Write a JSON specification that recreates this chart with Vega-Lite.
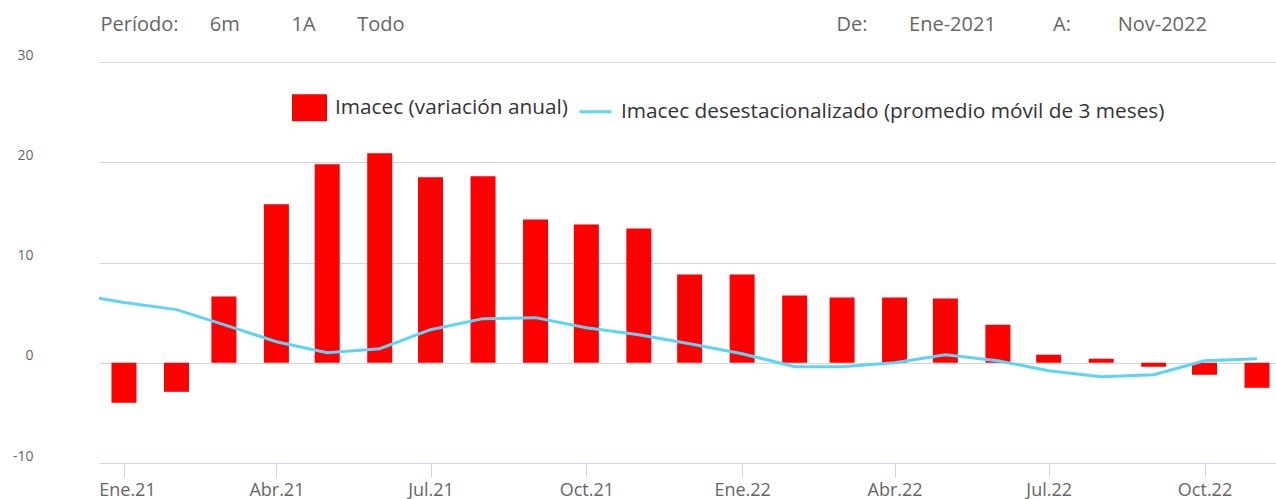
{
  "$schema": "https://vega.github.io/schema/vega-lite/v6.json",
  "autosize": {"type": "none"},
  "padding": {"left": 99, "top": 62, "right": 0, "bottom": 36},
  "width": 1177,
  "height": 401,
  "background": "#ffffff",
  "config": {"view": {"stroke": null}},
  "datasets": {
    "barras": [
      {"fecha": "2021-01-01", "valor": -4.0, "serie": "Imacec (variación anual)"},
      {"fecha": "2021-02-01", "valor": -2.9, "serie": "Imacec (variación anual)"},
      {"fecha": "2021-03-01", "valor": 6.6, "serie": "Imacec (variación anual)"},
      {"fecha": "2021-04-01", "valor": 15.8, "serie": "Imacec (variación anual)"},
      {"fecha": "2021-05-01", "valor": 19.8, "serie": "Imacec (variación anual)"},
      {"fecha": "2021-06-01", "valor": 20.9, "serie": "Imacec (variación anual)"},
      {"fecha": "2021-07-01", "valor": 18.5, "serie": "Imacec (variación anual)"},
      {"fecha": "2021-08-01", "valor": 18.6, "serie": "Imacec (variación anual)"},
      {"fecha": "2021-09-01", "valor": 14.3, "serie": "Imacec (variación anual)"},
      {"fecha": "2021-10-01", "valor": 13.8, "serie": "Imacec (variación anual)"},
      {"fecha": "2021-11-01", "valor": 13.4, "serie": "Imacec (variación anual)"},
      {"fecha": "2021-12-01", "valor": 8.8, "serie": "Imacec (variación anual)"},
      {"fecha": "2022-01-01", "valor": 8.8, "serie": "Imacec (variación anual)"},
      {"fecha": "2022-02-01", "valor": 6.7, "serie": "Imacec (variación anual)"},
      {"fecha": "2022-03-01", "valor": 6.5, "serie": "Imacec (variación anual)"},
      {"fecha": "2022-04-01", "valor": 6.5, "serie": "Imacec (variación anual)"},
      {"fecha": "2022-05-01", "valor": 6.4, "serie": "Imacec (variación anual)"},
      {"fecha": "2022-06-01", "valor": 3.8, "serie": "Imacec (variación anual)"},
      {"fecha": "2022-07-01", "valor": 0.8, "serie": "Imacec (variación anual)"},
      {"fecha": "2022-08-01", "valor": 0.4, "serie": "Imacec (variación anual)"},
      {"fecha": "2022-09-01", "valor": -0.4, "serie": "Imacec (variación anual)"},
      {"fecha": "2022-10-01", "valor": -1.2, "serie": "Imacec (variación anual)"},
      {"fecha": "2022-11-01", "valor": -2.5, "serie": "Imacec (variación anual)"}
    ],
    "linea": [
      {"fecha": "2020-12-01", "valor": 6.9, "serie": "Imacec desestacionalizado (promedio móvil de 3 meses)"},
      {"fecha": "2021-01-01", "valor": 6.0, "serie": "Imacec desestacionalizado (promedio móvil de 3 meses)"},
      {"fecha": "2021-02-01", "valor": 5.3, "serie": "Imacec desestacionalizado (promedio móvil de 3 meses)"},
      {"fecha": "2021-03-01", "valor": 3.8, "serie": "Imacec desestacionalizado (promedio móvil de 3 meses)"},
      {"fecha": "2021-04-01", "valor": 2.1, "serie": "Imacec desestacionalizado (promedio móvil de 3 meses)"},
      {"fecha": "2021-05-01", "valor": 1.0, "serie": "Imacec desestacionalizado (promedio móvil de 3 meses)"},
      {"fecha": "2021-06-01", "valor": 1.4, "serie": "Imacec desestacionalizado (promedio móvil de 3 meses)"},
      {"fecha": "2021-07-01", "valor": 3.3, "serie": "Imacec desestacionalizado (promedio móvil de 3 meses)"},
      {"fecha": "2021-08-01", "valor": 4.4, "serie": "Imacec desestacionalizado (promedio móvil de 3 meses)"},
      {"fecha": "2021-09-01", "valor": 4.5, "serie": "Imacec desestacionalizado (promedio móvil de 3 meses)"},
      {"fecha": "2021-10-01", "valor": 3.5, "serie": "Imacec desestacionalizado (promedio móvil de 3 meses)"},
      {"fecha": "2021-11-01", "valor": 2.8, "serie": "Imacec desestacionalizado (promedio móvil de 3 meses)"},
      {"fecha": "2021-12-01", "valor": 1.9, "serie": "Imacec desestacionalizado (promedio móvil de 3 meses)"},
      {"fecha": "2022-01-01", "valor": 0.9, "serie": "Imacec desestacionalizado (promedio móvil de 3 meses)"},
      {"fecha": "2022-02-01", "valor": -0.4, "serie": "Imacec desestacionalizado (promedio móvil de 3 meses)"},
      {"fecha": "2022-03-01", "valor": -0.4, "serie": "Imacec desestacionalizado (promedio móvil de 3 meses)"},
      {"fecha": "2022-04-01", "valor": 0.0, "serie": "Imacec desestacionalizado (promedio móvil de 3 meses)"},
      {"fecha": "2022-05-01", "valor": 0.8, "serie": "Imacec desestacionalizado (promedio móvil de 3 meses)"},
      {"fecha": "2022-06-01", "valor": 0.2, "serie": "Imacec desestacionalizado (promedio móvil de 3 meses)"},
      {"fecha": "2022-07-01", "valor": -0.8, "serie": "Imacec desestacionalizado (promedio móvil de 3 meses)"},
      {"fecha": "2022-08-01", "valor": -1.4, "serie": "Imacec desestacionalizado (promedio móvil de 3 meses)"},
      {"fecha": "2022-09-01", "valor": -1.2, "serie": "Imacec desestacionalizado (promedio móvil de 3 meses)"},
      {"fecha": "2022-10-01", "valor": 0.2, "serie": "Imacec desestacionalizado (promedio móvil de 3 meses)"},
      {"fecha": "2022-11-01", "valor": 0.4, "serie": "Imacec desestacionalizado (promedio móvil de 3 meses)"}
    ]
  },
  "encoding": {
    "x": {
      "field": "fecha",
      "type": "temporal",
      "scale": {
        "type": "utc",
        "padding": 0,
        "domain": [
          {"year": 2020, "month": 12, "date": 17, "hours": 6, "utc": true},
          {"year": 2022, "month": 11, "date": 12, "hours": 5, "utc": true}
        ]
      },
      "axis": {
        "values": [
          {"year": 2021, "month": 1, "date": 1, "utc": true},
          {"year": 2021, "month": 4, "date": 1, "utc": true},
          {"year": 2021, "month": 7, "date": 1, "utc": true},
          {"year": 2021, "month": 10, "date": 1, "utc": true},
          {"year": 2022, "month": 1, "date": 1, "utc": true},
          {"year": 2022, "month": 4, "date": 1, "utc": true},
          {"year": 2022, "month": 7, "date": 1, "utc": true},
          {"year": 2022, "month": 10, "date": 1, "utc": true}
        ],
        "labelExpr": "['Ene','Feb','Mar','Abr','May','Jun','Jul','Ago','Sep','Oct','Nov','Dic'][utcmonth(datum.value)] + '.' + utcFormat(datum.value, '%y')",
        "labelFont": "Open Sans",
        "labelFontSize": 18,
        "labelColor": "#666666",
        "labelBaseline": "alphabetic",
        "labelPadding": 18,
        "labelOffset": {"condition": {"test": "utcyear(datum.value) === 2021 && utcmonth(datum.value) === 0", "value": 3}, "value": 0},
        "ticks": true,
        "tickSize": 14,
        "tickColor": "#ccd6eb",
        "tickWidth": 1,
        "domain": true,
        "domainColor": "#ccd6eb",
        "domainWidth": 1,
        "grid": false,
        "title": "De:\u00a0\u00a0\u00a0\u00a0\u00a0\u00a0\u00a0\u00a0Ene-2021\u00a0\u00a0\u00a0\u00a0\u00a0\u00a0\u00a0\u00a0\u00a0\u00a0\u00a0A:\u00a0\u00a0\u00a0\u00a0\u00a0\u00a0\u00a0\u00a0\u00a0Nov-2022",
        "titleFont": "Open Sans",
        "titleFontSize": 20,
        "titleFontWeight": "normal",
        "titleColor": "#666666",
        "titleAngle": 0,
        "titleAlign": "left",
        "titleBaseline": "alphabetic",
        "titleX": 737,
        "titleY": -433
      }
    },
    "y": {
      "field": "valor",
      "type": "quantitative",
      "scale": {"domain": [-10, 30], "nice": false, "zero": false},
      "axis": {
        "values": [-10, 0, 10, 20, 30],
        "labelExpr": "replace(datum.label, '\u2212', '-')",
        "labelFont": "Open Sans",
        "labelFontSize": 14,
        "labelColor": "#666666",
        "labelAlign": "right",
        "labelBaseline": "alphabetic",
        "labelOffset": -3,
        "labelPadding": 66,
        "ticks": false,
        "tickSize": 0,
        "domain": false,
        "grid": true,
        "gridColor": "#d6d6d6",
        "gridWidth": 1,
        "title": "Período:\u00a0\u00a0\u00a0\u00a0\u00a0\u00a06m\u00a0\u00a0\u00a0\u00a0\u00a0\u00a0\u00a0\u00a0\u00a0\u00a01A\u00a0\u00a0\u00a0\u00a0\u00a0\u00a0\u00a0\u00a0Todo",
        "titleFont": "Open Sans",
        "titleFontSize": 20,
        "titleFontWeight": "normal",
        "titleColor": "#666666",
        "titleAngle": 0,
        "titleAlign": "left",
        "titleBaseline": "alphabetic",
        "titleX": 1,
        "titleY": -32
      }
    }
  },
  "layer": [
    {
      "data": {"name": "barras"},
      "mark": {"type": "bar", "size": 25},
      "encoding": {
        "color": {
          "field": "serie",
          "type": "nominal",
          "scale": {
            "domain": ["Imacec (variación anual)", "Imacec desestacionalizado (promedio móvil de 3 meses)"],
            "range": ["#ff0000", "#5cd3f9"]
          },
          "legend": {
            "orient": "none",
            "direction": "horizontal",
            "legendX": 193,
            "legendY": 28,
            "padding": 0,
            "title": null,
            "labelFont": "Open Sans",
            "labelFontSize": 20.8,
            "labelColor": "#333333",
            "labelLimit": 0,
            "labelOffset": 8,
            "columnPadding": 5,
            "symbolSize": 1024,
            "encode": {
              "symbols": {
                "update": {
                  "shape": {"signal": "datum.value === 'Imacec (variación anual)' ? 'M-1,-0.75H1V0.75H-1Z' : 'M-1,0H1'"},
                  "fill": {"signal": "datum.value === 'Imacec (variación anual)' ? '#ff0000' : 'transparent'"},
                  "stroke": {"signal": "datum.value === 'Imacec (variación anual)' ? 'transparent' : '#5cd3f9'"},
                  "strokeWidth": {"value": 3},
                  "opacity": {"value": 1},
                  "fillOpacity": {"value": 1},
                  "strokeOpacity": {"value": 1}
                }
              }
            }
          }
        }
      }
    },
    {
      "data": {"name": "linea"},
      "mark": {"type": "line", "strokeWidth": 3, "clip": true},
      "encoding": {
        "color": {
          "field": "serie",
          "type": "nominal",
          "scale": {
            "domain": ["Imacec (variación anual)", "Imacec desestacionalizado (promedio móvil de 3 meses)"],
            "range": ["#ff0000", "#5cd3f9"]
          }
        }
      }
    }
  ]
}
